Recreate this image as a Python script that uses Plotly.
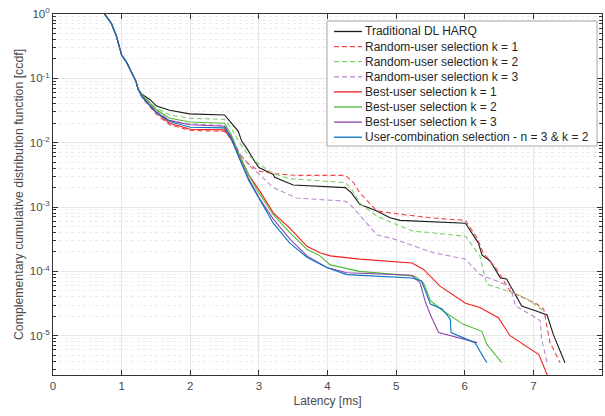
import plotly.graph_objects as go
import numpy as np

# ---------------- data ----------------
HEAD_X = [0.75, 0.85, 0.925, 0.98, 1.0, 1.07, 1.14, 1.21, 1.24]
HEAD_Y = [1.0, 0.72, 0.45, 0.28, 0.23, 0.18, 0.13, 0.089, 0.068]

trad_x = [1.30, 1.41, 1.51, 1.70, 1.99, 2.50, 2.60, 2.70, 2.75, 2.82, 2.94, 3.00, 3.21, 3.23, 3.50, 4.26,
          4.35, 4.47, 4.72, 4.91, 5.06, 6.01, 6.20, 6.25, 6.37, 6.52, 6.61, 6.74, 6.83, 7.05, 7.20, 7.29, 7.46]
trad_y = [0.056, 0.047, 0.037, 0.032, 0.028, 0.027, 0.020, 0.015, 0.0105, 0.0083, 0.0051, 0.0041, 0.0032,
          0.0029, 0.0022, 0.0020, 0.00166, 0.0011, 8.7e-4, 6.8e-4, 6.2e-4, 5.6e-4, 2.75e-4, 1.8e-4, 1.45e-4,
          7.9e-5, 7.6e-5, 4.4e-5, 2.9e-5, 2.4e-5, 2.1e-5, 1.05e-5, 3.8e-6]

rnd1_x = [1.30, 1.50, 1.70, 2.00, 2.50, 2.60, 2.72, 2.85, 3.01, 3.21, 3.55, 4.26, 4.38, 4.47, 4.72, 4.91,
          5.50, 6.01, 6.18, 6.27, 6.47, 6.66, 7.05, 7.15, 7.24, 7.39]
rnd1_y = [0.050, 0.028, 0.019, 0.0155, 0.015, 0.0112, 0.0065, 0.0047, 0.0036, 0.0033, 0.0031, 0.0031,
          0.0024, 0.00166, 8.7e-4, 8.1e-4, 6.8e-4, 6.2e-4, 3.3e-4, 1.95e-4, 1.07e-4, 4.9e-5, 3.1e-5,
          2.6e-5, 7.9e-6, 3.8e-6]

rnd2_x = [1.30, 1.50, 1.70, 2.00, 2.50, 2.60, 2.72, 2.85, 3.01, 3.21, 3.45, 4.26, 4.35, 4.47, 4.72, 4.96,
          5.25, 5.50, 6.01, 6.22, 6.32, 6.64, 6.88, 7.05, 7.15]
rnd2_y = [0.054, 0.035, 0.027, 0.024, 0.023, 0.0166, 0.010, 0.0063, 0.0046, 0.0033, 0.00275, 0.0024,
          0.0019, 0.00115, 7.2e-4, 5.6e-4, 4.2e-4, 4.0e-4, 3.5e-4, 1.74e-4, 6.3e-5, 4.9e-5, 3.9e-5,
          2.9e-5, 2.4e-5]

rnd3_x = [1.30, 1.50, 1.70, 2.00, 2.50, 2.60, 2.72, 2.85, 3.01, 3.21, 3.55, 4.26, 4.33, 4.52, 4.72, 4.96,
          5.06, 5.54, 6.01, 6.22, 6.66, 6.74, 7.00, 7.10, 7.12, 7.20]
rnd3_y = [0.050, 0.032, 0.022, 0.0195, 0.0186, 0.0126, 0.0069, 0.0045, 0.0032, 0.0020, 0.00138, 0.00123,
          0.0011, 6.5e-4, 3.7e-4, 3.2e-4, 2.95e-4, 1.95e-4, 1.55e-4, 8.9e-5, 5.9e-5, 2.9e-5, 2.0e-5,
          1.7e-5, 8.9e-6, 3.8e-6]

best1_x = [1.30, 1.50, 1.70, 2.00, 2.50, 2.60, 2.72, 2.85, 3.01, 3.21, 3.45, 3.70, 3.89, 4.04, 4.47, 5.23,
           5.40, 5.64, 6.01, 6.22, 6.49, 6.66, 7.08, 7.22]
best1_y = [0.052, 0.030, 0.020, 0.0162, 0.0158, 0.0112, 0.0060, 0.0032, 0.00178, 8.1e-4, 4.7e-4, 2.45e-4,
           1.95e-4, 1.74e-4, 1.55e-4, 1.35e-4, 1.07e-4, 5.9e-5, 3.2e-5, 2.75e-5, 1.9e-5, 1.0e-5, 5.1e-6,
           2.2e-6]

best2_x = [1.30, 1.50, 1.70, 2.00, 2.50, 2.60, 2.72, 2.85, 2.97, 3.21, 3.45, 3.70, 3.89, 4.04, 4.47, 5.23,
           5.28, 5.40, 5.50, 5.69, 5.98, 6.25, 6.32, 6.54]
best2_y = [0.055, 0.033, 0.024, 0.021, 0.020, 0.0132, 0.0063, 0.0032, 0.00186, 7.6e-4, 4.0e-4, 2.2e-4,
           1.74e-4, 1.26e-4, 1.0e-4, 8.5e-5, 8.3e-5, 6.6e-5, 3.5e-5, 2.4e-5, 1.5e-5, 1.17e-5, 7.4e-6,
           3.8e-6]

best3_x = [1.30, 1.50, 1.70, 2.00, 2.50, 2.60, 2.72, 2.85, 3.00, 3.21, 3.45, 3.70, 3.99, 4.28, 5.23, 5.35,
           5.42, 5.50, 5.62, 6.18]
best3_y = [0.052, 0.030, 0.022, 0.019, 0.018, 0.012, 0.0056, 0.0028, 0.0014, 6.5e-4, 3.2e-4, 1.74e-4,
           1.15e-4, 9.5e-5, 8.7e-5, 6.6e-5, 3.5e-5, 2.1e-5, 1.12e-5, 7.8e-6]

comb_x = [1.30, 1.50, 1.70, 2.00, 2.50, 2.60, 2.72, 2.85, 3.01, 3.21, 3.45, 3.70, 3.99, 4.28, 5.23, 5.37,
          5.50, 5.67, 5.79, 5.80, 6.15, 6.32]
comb_y = [0.051, 0.0295, 0.0214, 0.0174, 0.017, 0.0112, 0.0056, 0.0026, 0.00132, 5.6e-4, 2.75e-4,
          1.66e-4, 1.15e-4, 8.9e-5, 7.9e-5, 7.1e-5, 3.1e-5, 2.6e-5, 1.8e-5, 1.12e-5, 7.8e-6, 3.8e-6]

SERIES = [
    ("Traditional DL HARQ", trad_x, trad_y, "#1a1a1a", "solid"),
    ("Random-user selection k = 1", rnd1_x, rnd1_y, "#f04848", "5px,3px"),
    ("Random-user selection k = 2", rnd2_x, rnd2_y, "#7fd06e", "5px,3px"),
    ("Random-user selection k = 3", rnd3_x, rnd3_y, "#bf8ad2", "5px,3px"),
    ("Best-user selection k = 1", best1_x, best1_y, "#f41c1c", "solid"),
    ("Best-user selection k = 2", best2_x, best2_y, "#4cbc37", "solid"),
    ("Best-user selection k = 3", best3_x, best3_y, "#8e44a8", "solid"),
    ("User-combination selection - n = 3 & k = 2", comb_x, comb_y, "#0a72c0", "solid"),
]

YTICK_VALS = [1e-5, 1e-4, 1e-3, 1e-2, 1e-1, 1]
YTICK_TEXT = ["10<sup>-5</sup>", "10<sup>-4</sup>", "10<sup>-3</sup>", "10<sup>-2</sup>",
              "10<sup>-1</sup>", "10<sup>0</sup>"]

# ---------------- layout constants (pixels) ----------------
W, H = 605, 416
ML, MR, MT, MB = 53, 3, 14, 41
PW, PH = W - ML - MR, H - MT - MB


def px_x(p):
    return (p - ML) / PW


def px_y(p):
    return (H - MB - p) / PH


FONT = "Liberation Sans, Arial, Helvetica, sans-serif"

fig = go.Figure()
for name, xs, ys, col, dash in SERIES:
    fig.add_trace(go.Scatter(
        x=HEAD_X + xs, y=HEAD_Y + ys, mode="lines", name=name, showlegend=False,
        line=dict(color=col, width=1.1, dash=dash)))

# ---------------- legend box (drawn manually for MATLAB-like compact rows) ----------------
LEG_L, LEG_R, LEG_T, LEG_B = 327, 597, 21, 146
ROW0, ROW_STEP = 31.5, 15.1
SAMPLE_L, SAMPLE_R, TEXT_L = 334, 362, 363

shapes = [dict(type="rect", xref="paper", yref="paper", layer="above",
               x0=px_x(LEG_L), x1=px_x(LEG_R), y0=px_y(LEG_B), y1=px_y(LEG_T),
               fillcolor="white", line=dict(color="#a6a6a6", width=1))]
annotations = []
for i, (name, xs, ys, col, dash) in enumerate(SERIES):
    yy = px_y(ROW0 + i * ROW_STEP)
    shapes.append(dict(type="line", xref="paper", yref="paper", layer="above",
                       x0=px_x(SAMPLE_L), x1=px_x(SAMPLE_R), y0=yy, y1=yy,
                       line=dict(color=col, width=1.3, dash=dash)))
    annotations.append(dict(xref="paper", yref="paper", x=px_x(TEXT_L), y=yy,
                            xanchor="left", yanchor="middle", showarrow=False, text=name,
                            font=dict(family=FONT, size=12, color="#262626")))

minor_vals = [m * 10.0 ** e for e in range(-6, 0) for m in range(2, 10)]

fig.update_layout(
    width=W, height=H,
    margin=dict(l=ML, r=MR, t=MT, b=MB),
    plot_bgcolor="white", paper_bgcolor="white",
    font=dict(family=FONT, size=11.5, color="#4a4a4a"),
    showlegend=False,
    shapes=shapes, annotations=annotations,
    xaxis=dict(range=[0, 8], dtick=1, tick0=0, showline=True, linecolor="#333333", linewidth=1,
               mirror="allticks", ticks="inside", ticklen=5, tickcolor="#333333",
               showgrid=True, gridcolor="#e6e6e6", gridwidth=1, zeroline=False,
               title=dict(text="Latency [ms]", standoff=5, font=dict(size=12))),
    yaxis=dict(type="log", range=[np.log10(2.45e-6), 0], tickmode="array",
               tickvals=YTICK_VALS, ticktext=YTICK_TEXT,
               showline=True, linecolor="#333333", linewidth=1, mirror="allticks",
               ticks="inside", ticklen=5, tickcolor="#333333",
               showgrid=True, gridcolor="#e6e6e6", gridwidth=1, zeroline=False,
               minor=dict(tickmode="array", tickvals=minor_vals, ticks="inside", ticklen=3,
                          tickcolor="#333333", showgrid=True, gridcolor="#ececec",
                          griddash="dot", gridwidth=1),
               title=dict(text="Complementary cumulative distribution function [ccdf]",
                          standoff=3, font=dict(size=12.3))),
)

fig.write_html("out.html")
